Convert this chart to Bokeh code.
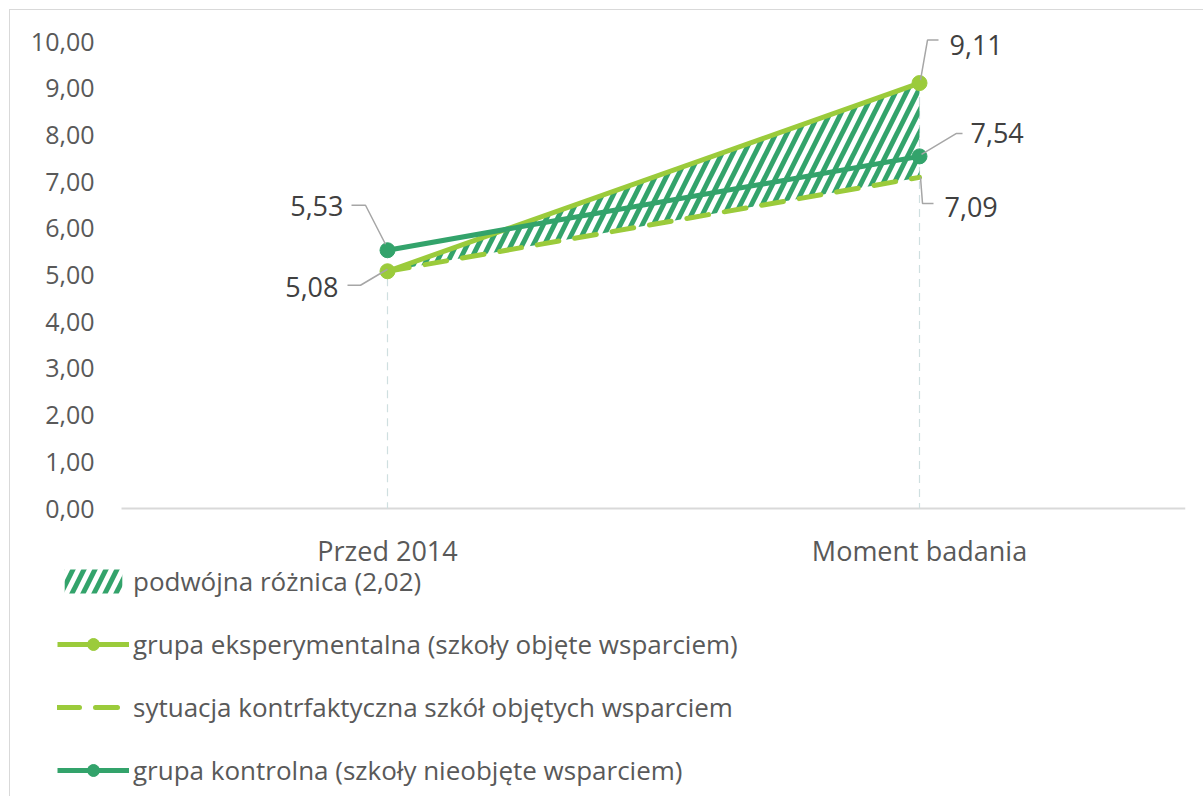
from bokeh.plotting import figure
from bokeh.models import Range1d, FixedTicker, Legend, LegendItem
from bokeh.core.properties import value
from bokeh.embed import file_html
from bokeh.resources import INLINE

# ---- data ----
categories = ["Przed 2014", "Moment badania"]
experimental = [5.08, 9.11]
counterfactual = [5.08, 7.09]
control = [5.53, 7.54]
y_ticks = [0, 1, 2, 3, 4, 5, 6, 7, 8, 9, 10]
y_tick_labels = ["0,00", "1,00", "2,00", "3,00", "4,00", "5,00", "6,00", "7,00", "8,00", "9,00", "10,00"]
label_exp = ["5,08", "9,11"]
label_cf = ["", "7,09"]
label_ctl = ["5,53", "7,54"]
legend_labels = ["podwójna różnica (2,02)",
                 "grupa eksperymentalna (szkoły objęte wsparciem)",
                 "sytuacja kontrfaktyczna szkół objętych wsparciem",
                 "grupa kontrolna (szkoły nieobjęte wsparciem)"]

LIGHT = "#9BCB3B"
DARK = "#33A36B"
FONT = "Open Sans"
GRID = "#D9D9D9"

# ---- layout (pixels) ----
W, H = 1203, 796
ML, MR, MT, MB = 55, 18, 9, 0
PLOT_LEFT = 121          # left end of the category axis
AXIS_Y = 508             # pixel row of value 0
px_x = (W - MR - PLOT_LEFT) / len(categories)   # pixels per category
px_y = 46.7                                     # pixels per value unit

xs = list(range(len(categories)))
x_start = -0.5 - (PLOT_LEFT - ML) / px_x
x_end = len(categories) - 0.5
y_start = -(H - MB - AXIS_Y) / px_y
y_end = (AXIS_Y - MT) / px_y

frame_bg = ("linear-gradient(#D9D9D9,#D9D9D9) 9px 9px / 1px 100% no-repeat, "
            "linear-gradient(#D9D9D9,#D9D9D9) 9px 9px / 100% 1px no-repeat, white")

p = figure(width=W, height=H, output_backend="svg", toolbar_location=None,
           x_range=Range1d(x_start, x_end), y_range=Range1d(y_start, y_end),
           x_axis_location=None,
           min_border_left=ML, min_border_right=MR, min_border_top=MT, min_border_bottom=MB,
           styles={"background": frame_bg})
p.outline_line_color = None
p.xgrid.visible = False
p.ygrid.visible = False
p.background_fill_color = None
p.border_fill_color = None

# value axis
p.yaxis.ticker = FixedTicker(ticks=y_ticks)
p.yaxis.major_label_overrides = {t: l for t, l in zip(y_ticks, y_tick_labels)}
p.yaxis.axis_line_color = None
p.yaxis.major_tick_line_color = None
p.yaxis.minor_tick_line_color = None
p.yaxis.major_tick_out = 0
p.yaxis.major_tick_in = 0
p.yaxis.major_label_standoff = -(94 - ML)
p.yaxis.major_label_text_font = FONT
p.yaxis.major_label_text_font_size = "25px"
p.yaxis.major_label_text_color = "#595959"

# category axis line and labels
p.segment(x0=[xs[0] - 0.5], y0=[0], x1=[xs[-1] + 0.5], y1=[0], line_color=GRID, line_width=2)
p.text(x=xs, y=[0] * len(xs), text=categories, y_offset=42, text_align="center",
       text_baseline="middle", text_font=value(FONT), text_font_size="27px",
       text_color="#595959")

# drop lines
tops = [max(a, b, c) for a, b, c in zip(experimental, counterfactual, control)]
p.segment(x0=xs, y0=tops, x1=xs, y1=[0] * len(xs), line_color="#CFDFE0",
          line_width=1.2, line_dash="8 6")

# hatched area between experimental and counterfactual
area = p.varea(x=xs, y1=counterfactual, y2=experimental, fill_alpha=0,
               hatch_pattern="/", hatch_color=DARK, hatch_weight=5, hatch_scale=22)

exp_line = p.line(xs, experimental, line_color=LIGHT, line_width=5)
exp_pts = p.scatter(xs, experimental, size=15, fill_color=LIGHT, line_color=LIGHT)

cf_line = p.line(xs, counterfactual, line_color=LIGHT, line_width=5, line_dash="22 16",
                 line_cap="round")

ctl_line = p.line(xs, control, line_color=DARK, line_width=5)
ctl_pts = p.scatter(xs, control, size=15, fill_color=DARK, line_color=DARK)

# ---- data labels with leader lines (offsets in pixels) ----
def add_label(xi, val, txt, tdx, tdy, align, leader):
    lx = [xi + dx / px_x for dx, dy in leader]
    ly = [val - dy / px_y for dx, dy in leader]
    p.line(lx, ly, line_color="#A6A6A6", line_width=1.5)
    p.text(x=[xi], y=[val], text=[txt], x_offset=tdx, y_offset=tdy,
           text_align=align, text_baseline="middle", text_font=value(FONT),
           text_font_size="27px", text_color="#404040")

add_label(xs[0], control[0], label_ctl[0], -44, -44, "right", [(-2, -6), (-22, -45), (-36, -45)])
add_label(xs[0], experimental[0], label_exp[0], -49, 16, "right", [(0, -2), (-27, 14), (-40, 14)])
add_label(xs[1], experimental[1], label_exp[1], 30, -38, "left", [(1, -3), (8, -43), (19, -43)])
add_label(xs[1], control[1], label_ctl[1], 51, -23, "left", [(2, -2), (37, -23), (43, -23)])
add_label(xs[1], counterfactual[1], label_cf[1], 25, 30, "left", [(1, 0), (3, 26), (14, 26)])

# ---- legend ----
legend = Legend(items=[
    LegendItem(label=legend_labels[0], renderers=[area]),
    LegendItem(label=legend_labels[1], renderers=[exp_line, exp_pts]),
    LegendItem(label=legend_labels[2], renderers=[cf_line]),
    LegendItem(label=legend_labels[3], renderers=[ctl_line, ctl_pts]),
], location=(2, 8))
legend.border_line_color = None
legend.background_fill_alpha = 0
legend.padding = 0
legend.margin = 0
legend.spacing = 27
legend.glyph_width = 72
legend.glyph_height = 30
legend.label_height = 36
legend.label_standoff = 4
legend.label_text_font = FONT
legend.label_text_font_size = "26px"
legend.label_text_color = "#595959"
p.add_layout(legend, "center")

open("out.html", "w").write(file_html(p, INLINE))
